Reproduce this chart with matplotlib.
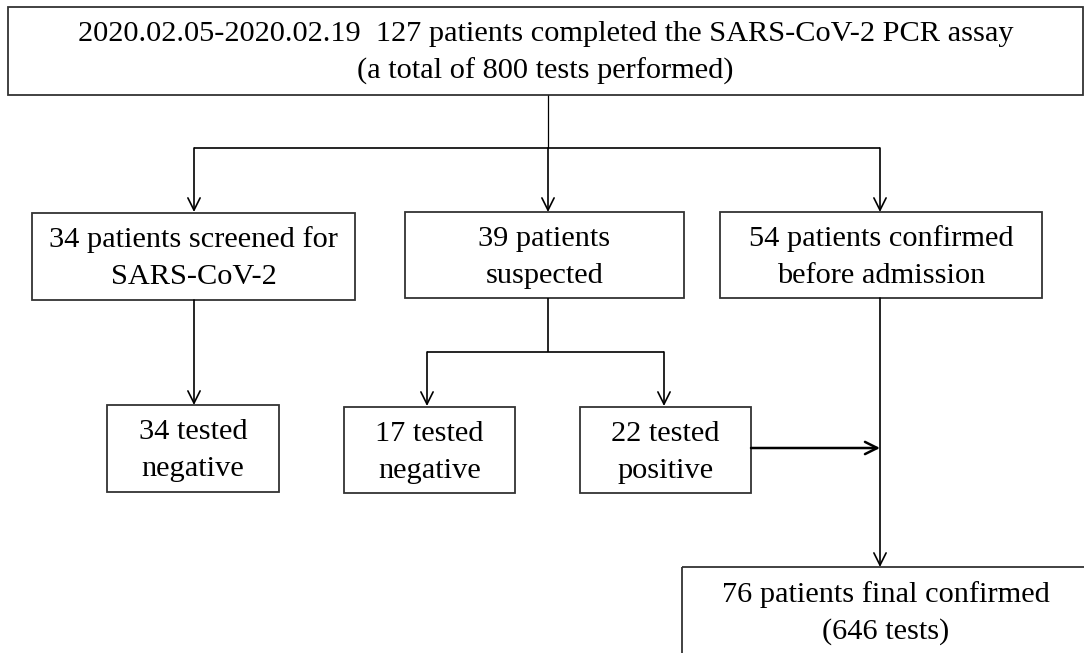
import matplotlib
matplotlib.use("Agg")
import matplotlib.pyplot as plt
from matplotlib.patches import Rectangle

W, H = 1084, 653

top_text = ["2020.02.05-2020.02.19  127 patients completed the SARS-CoV-2 PCR assay",
            "(a total of 800 tests performed)"]
mid_texts = [["34 patients screened for", "SARS-CoV-2"],
             ["39 patients", "suspected"],
             ["54 patients confirmed", "before admission"]]
low_texts = [["34 tested", "negative"],
             ["17 tested", "negative"],
             ["22 tested", "positive"]]
final_text = ["76 patients final confirmed", "(646 tests)"]

FONT = dict(family=["Liberation Serif", "DejaVu Serif"], fontsize=21.9, color="black")

fig = plt.figure(figsize=(W / 100, H / 100), dpi=100)
ax = fig.add_axes([0, 0, 1, 1])
ax.set_xlim(0, W); ax.set_ylim(H, 0); ax.axis("off")


def box(x0, y0, x1, y1, lines, ly):
    ax.add_patch(Rectangle((x0, y0), x1 - x0, y1 - y0, fill=False, ec="#333333", lw=1.3))
    cx = (x0 + x1) / 2
    for t, y in zip(lines, ly):
        ax.text(cx, y, t, ha="center", va="center", **FONT)


def line(xs, ys, lw=1.2):
    ax.plot(xs, ys, color="black", lw=lw, solid_capstyle="butt")


def arrow(x0, y0, x1, y1, lw=1.2):
    ax.annotate("", xy=(x1, y1), xytext=(x0, y0),
                arrowprops=dict(arrowstyle="->", lw=lw, color="black",
                                shrinkA=0, shrinkB=0, mutation_scale=22))


# top box
box(8, 7, 1083, 95, top_text, [34, 71])
line([548, 548], [95, 148], lw=0.9)
line([194, 880], [148, 148])

# middle row
mid_boxes = [(32, 213, 355, 300), (405, 212, 684, 298), (720, 212, 1042, 298)]
for (x0, y0, x1, y1), t in zip(mid_boxes, mid_texts):
    box(x0, y0, x1, y1, t, [y0 + 27, y0 + 64])
for x in (194, 548, 880):
    arrow(x, 148, x, 212)

# suspected split
line([548, 548], [298, 352])
line([427, 664], [352, 352])
arrow(194, 300, 194, 405)
arrow(427, 352, 427, 406)
arrow(664, 352, 664, 406)

# lower row
low_boxes = [(107, 405, 279, 492), (344, 407, 515, 493), (580, 407, 751, 493)]
for (x0, y0, x1, y1), t in zip(low_boxes, low_texts):
    box(x0, y0, x1, y1, t, [y0 + 27, y0 + 64])

arrow(751, 448, 880, 448, lw=1.8)
arrow(880, 298, 880, 567)

# final box (runs off the page edge)
ax.add_patch(Rectangle((682, 567), 500, 200, fill=False, ec="#333333", lw=1.3))
ax.text(886, 595, final_text[0], ha="center", va="center", **FONT)
ax.text(886, 632, final_text[1], ha="center", va="center", **FONT)

fig.savefig("out.png", dpi=100)
